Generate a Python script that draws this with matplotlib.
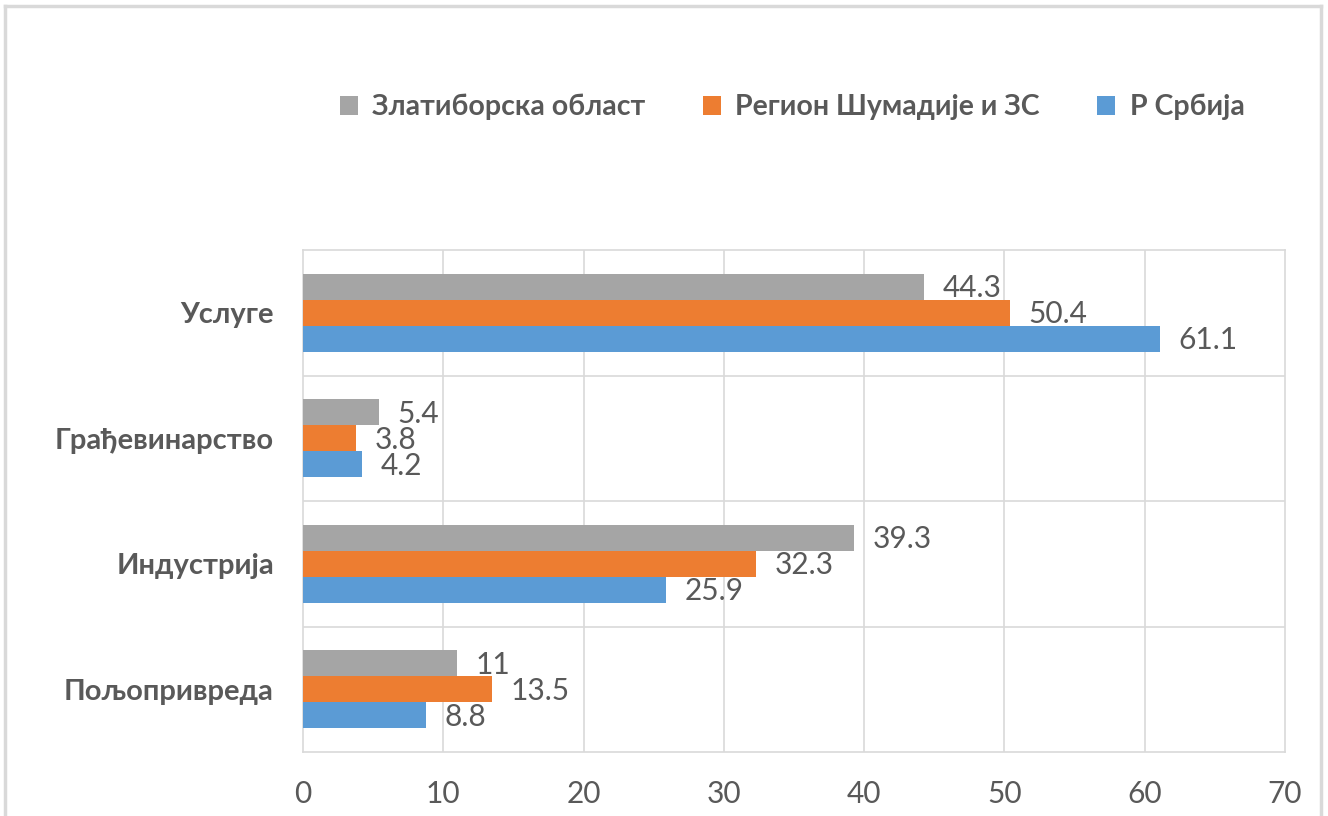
import matplotlib.pyplot as plt
from matplotlib.patches import Patch
from matplotlib.lines import Line2D
import numpy as np

plt.rcParams['font.family'] = ['Lato', 'DejaVu Sans']

categories = ['Пољопривреда', 'Индустрија', 'Грађевинарство', 'Услуге']
series_names = ['Златиборска област', 'Регион Шумадије и ЗС', 'Р Србија']
zlatiborska = [11, 39.3, 5.4, 44.3]
sumadija = [13.5, 32.3, 3.8, 50.4]
srbija = [8.8, 25.9, 4.2, 61.1]
colors = ['#a5a5a5', '#ed7d31', '#5b9bd5']

text_gray = '#595959'
grid_gray = '#d9d9d9'

fig = plt.figure(figsize=(13.28, 8.16), dpi=100)
ax = fig.add_axes([0.2282, 0.0784, 0.9676 - 0.2282, 0.6936 - 0.0784])

y = np.arange(len(categories))
h = 0.207
offsets = [h, 0, -h]
for vals, off, c, name in zip([zlatiborska, sumadija, srbija], offsets, colors, series_names):
    bars = ax.barh(y + off, vals, height=h, color=c, label=name, zorder=3)
    for b, v in zip(bars, vals):
        ax.text(v + 1.3, b.get_y() + h / 2 - 0.01, f'{v:g}', va='center', ha='left',
                fontsize=21.5, color=text_gray)

ax.set_xlim(0, 70)
ax.set_ylim(-0.5, len(categories) - 0.5)
ax.set_xticks(np.arange(0, 71, 10))
ax.set_yticks(y)
ax.set_yticklabels(categories, fontsize=21, fontweight='bold', color=text_gray)
ax.tick_params(axis='y', length=0, pad=21)
ax.tick_params(axis='x', length=0, pad=20, labelsize=21.5, labelcolor=text_gray)

# grid: vertical at ticks, horizontal at category boundaries
for xv in np.arange(10, 70, 10):
    ax.axvline(xv, color=grid_gray, lw=1.2, zorder=0)
for yb in np.arange(0.5, len(categories) - 0.5, 1):
    ax.axhline(yb, color=grid_gray, lw=1.2, zorder=0)
for s in ax.spines.values():
    s.set_color(grid_gray)
    s.set_linewidth(1.2)

handles = [Patch(facecolor=c, edgecolor='none') for c in colors]
fig.legend(handles, series_names, loc='center', bbox_to_anchor=(792 / 1328, 1 - 107 / 816),
           ncol=3, frameon=False, handlelength=0.65, handleheight=0.65, handletextpad=0.5,
           columnspacing=2.0, prop={'size': 20.5, 'weight': 'bold'}, labelcolor=text_gray)

# outer chart frame
frame_kw = dict(color=grid_gray, lw=2.5, transform=fig.transFigure)
fig.add_artist(Line2D([5 / 1328, 5 / 1328], [0, 1 - 6 / 816], **frame_kw))
fig.add_artist(Line2D([5 / 1328, 1321 / 1328], [1 - 6 / 816, 1 - 6 / 816], **frame_kw))
fig.add_artist(Line2D([1321 / 1328, 1321 / 1328], [0, 1 - 6 / 816], **frame_kw))

fig.savefig('out.png', dpi=100)
